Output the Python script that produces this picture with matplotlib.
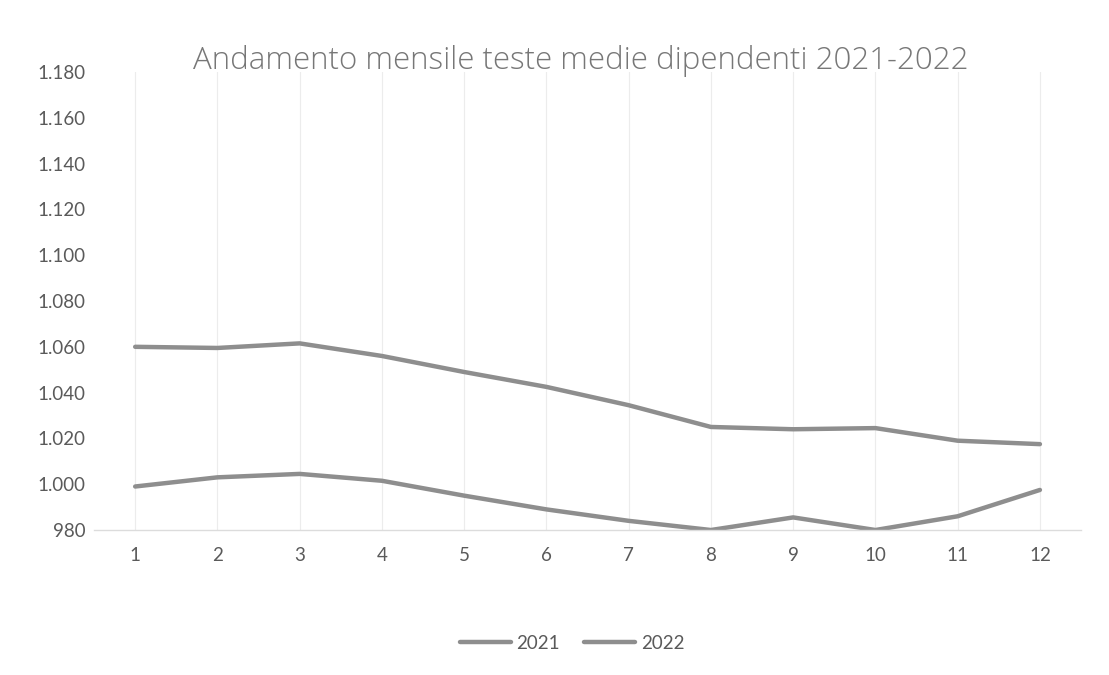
import numpy as np
import matplotlib
matplotlib.use("Agg")
import matplotlib.pyplot as plt
from matplotlib.ticker import FuncFormatter, MultipleLocator

mesi = list(range(1, 13))
teste_2021 = [1060, 1059.5, 1061.5, 1056, 1049, 1042.5, 1034.5, 1025, 1024, 1024.5, 1019, 1017.5]
teste_2022 = [999, 1003, 1004.5, 1001.5, 995, 989, 984, 980, 985.5, 980, 986, 997.5]

plt.rcParams["font.family"] = ["Lato", "DejaVu Sans"]

LINE = "#8e8e8e"
TXT = "#5a5a5a"

fig = plt.figure(figsize=(11.09, 6.75), dpi=100)
ax = fig.add_axes([0.0848, 0.2148, 0.89, 0.6785])

x = np.arange(len(mesi))
ax.plot(x, teste_2021, color=LINE, linewidth=3.2, label="2021", solid_capstyle="round")
ax.plot(x, teste_2022, color=LINE, linewidth=3.2, label="2022", solid_capstyle="round")

ax.set_xlim(-0.5, len(mesi) - 0.5)
ax.set_ylim(980, 1180)
ax.yaxis.set_major_locator(MultipleLocator(20))
ax.yaxis.set_major_formatter(FuncFormatter(lambda v, p: f"{v:,.0f}".replace(",", ".")))
ax.set_xticks(x)
ax.set_xticklabels([str(m) for m in mesi])

for xi in x:
    ax.axvline(xi, color="#ececec", linewidth=0.8, zorder=0)

for s in ["top", "right", "left"]:
    ax.spines[s].set_visible(False)
ax.spines["bottom"].set_color("#dcdcdc")
ax.spines["bottom"].set_linewidth(1.0)
ax.tick_params(axis="both", length=0, labelsize=13.5, labelcolor=TXT)
ax.tick_params(axis="y", pad=6)
ax.tick_params(axis="x", pad=12)

fig.text(0.524, 0.91, "Andamento mensile teste medie dipendenti 2021-2022",
         ha="center", va="center", fontsize=22.5, color="#777777",
         family=["Open Sans", "DejaVu Sans"], fontweight="light")

fig.legend(loc="center", bbox_to_anchor=(0.516, 0.047), ncol=2, frameon=False,
           fontsize=13.5, labelcolor=TXT, handlelength=2.7, handletextpad=0.3,
           columnspacing=1.3)

fig.savefig("out.png", dpi=100)
